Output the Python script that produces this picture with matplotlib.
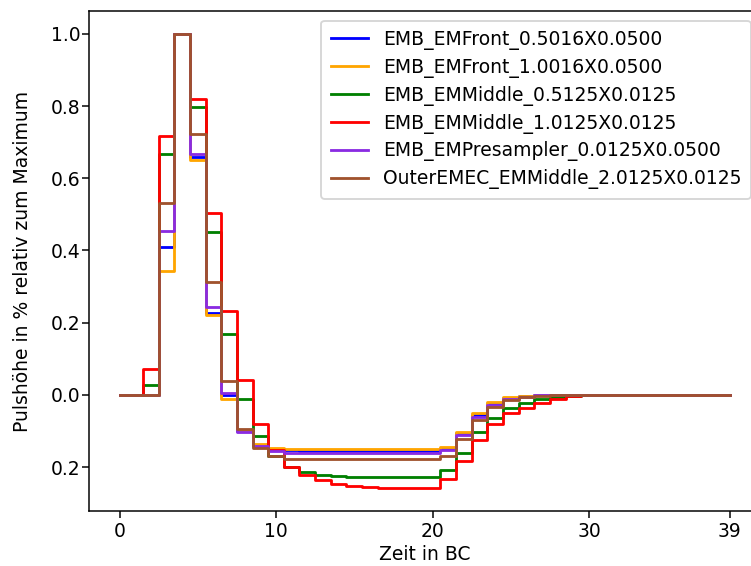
#!/usr/bin/env python
import numpy as np
import matplotlib as mpl
from matplotlib.backends.backend_agg import FigureCanvasAgg as FigCanvas
from matplotlib.figure import Figure

# pulse shapes, one sample per bunch crossing, normalised to the peak
bc = np.arange(40)

emb_front_05 = [0, 0, 0, 0.410, 1.0, 0.660, 0.228, 0.000, -0.100, -0.138,
                -0.151, -0.154, -0.155, -0.155, -0.155, -0.155, -0.155, -0.155, -0.155, -0.155,
                -0.155, -0.149, -0.107, -0.055, -0.024, -0.009, -0.004, -0.001, 0, 0,
                0, 0, 0, 0, 0, 0, 0, 0, 0, 0]
emb_front_10 = [0, 0, 0, 0.344, 1.0, 0.651, 0.222, -0.011, -0.098, -0.135,
                -0.147, -0.149, -0.149, -0.149, -0.149, -0.149, -0.149, -0.149, -0.149, -0.149,
                -0.149, -0.145, -0.103, -0.051, -0.020, -0.007, -0.003, -0.001, 0, 0,
                0, 0, 0, 0, 0, 0, 0, 0, 0, 0]
emb_middle_05 = [0, 0, 0.028, 0.667, 1.0, 0.798, 0.451, 0.169, -0.011, -0.115,
                 -0.170, -0.201, -0.213, -0.221, -0.225, -0.227, -0.228, -0.228, -0.228, -0.228,
                 -0.228, -0.208, -0.162, -0.104, -0.063, -0.037, -0.023, -0.012, -0.005, -0.002,
                 0, 0, 0, 0, 0, 0, 0, 0, 0, 0]
emb_middle_10 = [0, 0, 0.072, 0.717, 1.0, 0.820, 0.505, 0.233, 0.042, -0.080,
                 -0.152, -0.199, -0.222, -0.237, -0.246, -0.252, -0.255, -0.257, -0.258, -0.258,
                 -0.257, -0.233, -0.182, -0.126, -0.082, -0.050, -0.037, -0.023, -0.011, -0.004,
                 0, 0, 0, 0, 0, 0, 0, 0, 0, 0]
emb_presampler = [0, 0, 0, 0.454, 1.0, 0.668, 0.244, 0.005, -0.103, -0.141,
                  -0.156, -0.160, -0.161, -0.161, -0.161, -0.161, -0.161, -0.161, -0.161, -0.161,
                  -0.160, -0.152, -0.111, -0.060, -0.028, -0.012, -0.005, -0.001, 0, 0,
                  0, 0, 0, 0, 0, 0, 0, 0, 0, 0]
outer_emec = [0, 0, 0, 0.532, 1.0, 0.724, 0.313, 0.039, -0.095, -0.147,
              -0.170, -0.177, -0.178, -0.178, -0.178, -0.178, -0.178, -0.178, -0.178, -0.178,
              -0.178, -0.169, -0.123, -0.069, -0.033, -0.014, -0.005, -0.002, 0, 0,
              0, 0, 0, 0, 0, 0, 0, 0, 0, 0]

cells = [
    ('EMB_EMFront_0.5016X0.0500', emb_front_05, 'blue'),
    ('EMB_EMFront_1.0016X0.0500', emb_front_10, 'orange'),
    ('EMB_EMMiddle_0.5125X0.0125', emb_middle_05, 'green'),
    ('EMB_EMMiddle_1.0125X0.0125', emb_middle_10, 'red'),
    ('EMB_EMPresampler_0.0125X0.0500', emb_presampler, 'blueviolet'),
    ('OuterEMEC_EMMiddle_2.0125X0.0125', outer_emec, 'sienna'),
]

xticks = [0, 10, 20, 30, 39]
yticks = [-0.2, 0.0, 0.2, 0.4, 0.6, 0.8, 1.0]
yticklabels = ['0.2', '0.0', '0.2', '0.4', '0.6', '0.8', '1.0']

dpi = 135
fig = Figure(figsize=(751 / dpi, 566 / dpi), dpi=dpi)
FigCanvas(fig)

ax = fig.add_axes([0.1185, 0.0977, 0.894, 0.8825])
for name, pulse, col in cells:
    ax.step(bc, pulse, where='mid', color=col, label=name)

ax.set_xticks(xticks)
ax.set_yticks(yticks)
ax.set_yticklabels(yticklabels)
ax.tick_params(axis='y', pad=1.0)
ax.tick_params(axis='x', pad=2.5)
ax.set_xlabel('Zeit in BC', labelpad=2)
ax.set_ylabel('Pulshöhe in % relativ zum Maximum', labelpad=10)
ax.legend(loc='upper right', labelspacing=0.42, borderpad=0.5)

fig.savefig('out.png', dpi=dpi)
